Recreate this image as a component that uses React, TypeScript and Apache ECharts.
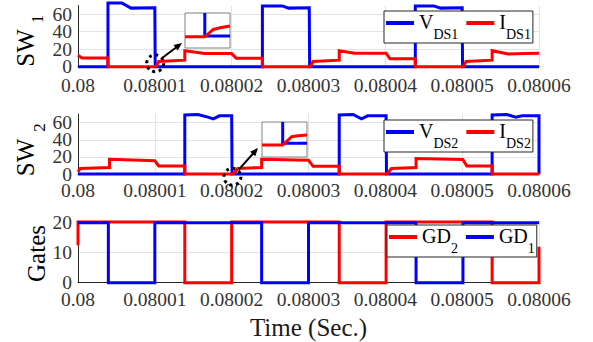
import React, { useEffect, useRef } from "react";
import * as echarts from "echarts";

// time axis: microseconds after 0.08 s
const tickLabels = ["0.08", "0.08001", "0.08002", "0.08003", "0.08004", "0.08005", "0.08006"];

const vds1: [number, number][] = [
  [0, 0], [3.9, 0], [3.9, 73], [5.7, 73], [6.9, 67], [10.0, 67.5], [10.05, 0],
  [24.0, 0], [24.0, 69.5], [26.6, 69.5], [27.4, 67], [30.1, 67.5], [30.15, 0],
  [43.9, 0], [43.9, 69.5], [46.3, 69.5], [47.2, 67], [50.0, 67.5], [50.05, 0], [60, 0],
];
const ids1: [number, number][] = [
  [0, 13], [0.5, 10], [3.9, 10], [3.9, 0], [10.0, 0], [10.2, 1], [10.5, 6], [13.9, 7.5],
  [13.9, 18.3], [16.5, 15], [20.0, 15], [20.6, 9.6], [24.0, 9.6], [24.0, 0],
  [30.1, 0], [30.3, 1], [30.6, 6], [34.0, 7.5], [34.0, 18.3], [36.0, 15.5], [40.1, 15.5], [40.6, 9], [43.9, 9], [43.9, 0],
  [50.0, 0], [50.2, 1], [50.5, 6], [53.9, 7.5], [53.9, 18.3], [56.0, 14.5], [58, 15], [60, 15.3],
];
const vds2: [number, number][] = [
  [0, 0], [13.9, 0], [13.9, 69], [15.6, 69.5], [16.9, 66.5], [17.6, 64.5], [18.4, 68], [20.0, 68], [20.05, 0],
  [34.0, 0], [34.0, 69], [35.8, 69.5], [36.9, 64.5], [37.7, 68], [40.1, 68], [40.15, 0],
  [53.9, 0], [53.9, 69], [55.8, 69.5], [57.0, 66.5], [57.8, 68], [60, 68], [60, 0],
];
const ids2: [number, number][] = [
  [0, 2.5], [0.3, 6.5], [4.1, 7.5], [4.1, 17.2], [10.0, 15.5], [10.5, 9.4], [13.9, 9.4], [13.9, 0],
  [20.1, 0], [20.3, 1], [20.8, 6.5], [23.9, 7.5], [23.9, 17.2], [30.0, 16.2], [30.6, 9], [34.0, 9], [34.0, 0],
  [40.1, 0], [40.3, 1], [40.8, 6.5], [44.0, 7.5], [44.0, 18], [50.1, 17], [50.6, 9.4], [53.9, 9.4], [53.9, 0],
  [60, 0],
];
const gd1: [number, number][] = [
  [0, 20], [3.95, 20], [3.95, 0], [10.0, 0], [10.0, 20], [23.9, 20], [23.9, 0], [30.0, 0], [30.0, 20],
  [44.0, 20], [44.0, 0], [50.1, 0], [50.1, 20], [60, 20],
];
const gd2: [number, number][] = [
  [0, 12.5], [0, 20.2], [13.9, 20.2], [13.9, 0], [20.0, 0], [20.0, 20.2], [34.0, 20.2], [34.0, 0],
  [40.1, 0], [40.1, 20.2], [53.9, 20.2], [53.9, 0], [60, 0], [60, 12],
];

// zoomed insets (normalised 0..1 coordinates)
const inset1Blue: [number, number][] = [[0.44, 1], [0.44, 0.34], [1, 0.34]];
const inset1Red: [number, number][] = [[0, 0.32], [0.44, 0.32], [0.63, 0.53], [0.78, 0.58], [1, 0.63]];
const inset2Blue: [number, number][] = [[0.46, 1], [0.46, 0.39], [1, 0.39]];
const inset2Red: [number, number][] = [[0, 0.34], [0.46, 0.34], [0.66, 0.58], [0.8, 0.61], [1, 0.63]];

// annotation circles (data coordinates)
const circleTop: [number, number] = [10.05, 3.9];
const circleMid: [number, number] = [20.1, -3.2];

const legendNames: Record<string, [string, string]> = {
  VDS1: ["V", "DS1"], IDS1: ["I", "DS1"], VDS2: ["V", "DS2"], IDS2: ["I", "DS2"], GD2: ["GD", "2"], GD1: ["GD", "1"],
};

const FONT = "Liberation Serif";
const BLUE = "#0000ff";
const RED = "#ff0000";
const LW = 3;
const AXIS = "#262626";
const LABEL = "#333333";
const GRIDC = "#e3e3e3";

const mainGrids = [
  { left: 78, top: 5.5, width: 461, height: 61.2 },
  { left: 78, top: 114.1, width: 461, height: 59.9 },
  { left: 78, top: 221.2, width: 461, height: 61.5 },
];
const insetGrids = [
  { left: 185, top: 13, width: 45, height: 35 },
  { left: 262, top: 122, width: 45, height: 35 },
];
const yMax = [70, 70, 20.5];
const yInterval = [20, 20, 10];
const labelMargin = [14, 11, 12];

function line(name: string | undefined, data: [number, number][], color: string, axis: number, z = 2) {
  return {
    type: "line", name, data, xAxisIndex: axis, yAxisIndex: axis, symbol: "none", showSymbol: false,
    lineStyle: { color, width: LW, join: "miter" }, itemStyle: { color }, clip: axis >= 3, z,
    emphasis: { disabled: true }, silent: true,
  };
}

function legend(data: string[], left: number, top: number) {
  return {
    data, left, top, orient: "horizontal", icon: "rect", itemWidth: 28, itemHeight: 4, itemGap: 8,
    padding: [1, 2, 2, 2], borderColor: AXIS, borderWidth: 1, backgroundColor: "#fff", selectedMode: false,
    formatter: (n: string) => `{m|${legendNames[n][0]}}{s|${legendNames[n][1]}}`,
    textStyle: {
      fontFamily: FONT, color: "#000",
      rich: {
        m: { fontSize: 20, fontFamily: FONT, color: "#000", lineHeight: 22, verticalAlign: "top" },
        s: { fontSize: 14, fontFamily: FONT, color: "#000", lineHeight: 14, padding: [15, 0, 0, 0], verticalAlign: "top" },
      },
    },
  };
}

function arrow(tail: number[], tip: number[]) {
  const dx = tip[0] - tail[0], dy = tip[1] - tail[1];
  const len = Math.hypot(dx, dy);
  const ux = dx / len, uy = dy / len, nx = -uy, ny = ux;
  const L = 8, W = 7;
  const bx = tip[0] - ux * L, by = tip[1] - uy * L;
  return [
    { type: "line", z: 20, shape: { x1: tail[0], y1: tail[1], x2: bx + ux, y2: by + uy }, style: { stroke: "#000", lineWidth: 2 } },
    { type: "polygon", z: 20, shape: { points: [[tip[0], tip[1]], [bx + nx * W / 2, by + ny * W / 2], [bx - nx * W / 2, by - ny * W / 2]] }, style: { fill: "#000" } },
  ];
}

export default function App() {
  const ref = useRef<HTMLDivElement>(null);
  useEffect(() => {
    const chart = echarts.init(ref.current!, undefined, { renderer: "svg" });
    const tickRich = { t: { fontSize: 19.5, fontFamily: FONT, color: LABEL, lineHeight: 10, padding: 0 } };
    const option: any = {
      animation: false,
      backgroundColor: "#fff",
      textStyle: { fontFamily: FONT },
      grid: [
        ...mainGrids,
        ...insetGrids.map((g) => ({ ...g, show: true, backgroundColor: "#fff", borderColor: "#808080", borderWidth: 1, z: 5 })),
      ],
      xAxis: [
        ...mainGrids.map((_, i) => ({
          type: "value", gridIndex: i, min: 0, max: 60, interval: 10,
          axisLine: { show: true, onZero: false, lineStyle: { color: AXIS, width: 1 } },
          axisTick: { show: false },
          axisLabel: {
            fontSize: 19.5, fontFamily: FONT, color: LABEL, margin: labelMargin[i], rich: tickRich,
            formatter: (v: number) => `{t|${tickLabels[Math.round(v / 10)] ?? ""}}`,
          },
          splitLine: { show: true, lineStyle: { color: GRIDC, width: 1 } },
          ...(i === 2 ? { name: "Time (Sec.)", nameLocation: "middle", nameGap: 32, nameTextStyle: { fontSize: 25, fontFamily: FONT, color: "#1a1a1a" } } : {}),
        })),
        ...insetGrids.map((_, i) => ({ type: "value", gridIndex: 3 + i, min: 0, max: 1, show: false })),
      ],
      yAxis: [
        ...mainGrids.map((_, i) => ({
          type: "value", gridIndex: i, position: "left", min: 0, max: yMax[i], interval: yInterval[i],
          axisLine: { show: true, onZero: false, lineStyle: { color: AXIS, width: 1 } },
          axisTick: { show: false },
          axisLabel: {
            fontSize: 19.5, fontFamily: FONT, color: LABEL, margin: 6, showMaxLabel: false, showMinLabel: i === 2 ? true : false,
            rich: tickRich, formatter: (v: number) => `{t|${v}}`,
          },
          splitLine: { show: true, showMaxLine: false, lineStyle: { color: GRIDC, width: 1 } },
        })),
        ...insetGrids.map((_, i) => ({ type: "value", gridIndex: 3 + i, min: 0, max: 1, show: false })),
        // zero labels of the two upper panels (kept on a separate axis so they are not dropped as overlapping)
        ...[0, 1].map((i) => ({
          type: "value", gridIndex: i, position: "left", offset: 0, min: 0, max: yMax[i], interval: yMax[i],
          axisLine: { show: false }, axisTick: { show: false }, splitLine: { show: false },
          axisLabel: {
            fontSize: 19.5, fontFamily: FONT, color: LABEL, margin: 6, showMaxLabel: false, showMinLabel: true,
            rich: tickRich, formatter: (v: number) => (v === 0 ? "{t|0}" : ""),
          },
        })),
      ],
      legend: [
        legend(["VDS1", "IDS1"], 384, 11),
        legend(["VDS2", "IDS2"], 384, 120),
        legend(["GD2", "GD1"], 387, 225),
      ],
      series: [
        line("VDS1", vds1, BLUE, 0),
        line("IDS1", ids1, RED, 0),
        line("VDS2", vds2, BLUE, 1),
        line("IDS2", ids2, RED, 1),
        line("GD2", gd2, RED, 2),
        line("GD1", gd1, BLUE, 2),
        line(undefined, inset1Blue, BLUE, 3, 6),
        line(undefined, inset1Red, RED, 3, 6),
        line(undefined, inset2Blue, BLUE, 4, 6),
        line(undefined, inset2Red, RED, 4, 6),
      ],
    };
    chart.setOption(option);

    const c1 = chart.convertToPixel({ xAxisIndex: 0, yAxisIndex: 0 }, circleTop) as number[];
    const c2 = chart.convertToPixel({ xAxisIndex: 1, yAxisIndex: 1 }, circleMid) as number[];
    const tip1 = [insetGrids[0].left - 3, insetGrids[0].top + insetGrids[0].height - 5];
    const tip2 = [insetGrids[1].left - 4, insetGrids[1].top + insetGrids[1].height - 9];
    const R = 8.5;
    const tailOf = (c: number[], tip: number[]) => {
      const dx = tip[0] - c[0], dy = tip[1] - c[1];
      const l = Math.hypot(dx, dy);
      return [c[0] + (dx / l) * (R + 1), c[1] + (dy / l) * (R + 1)];
    };
    const ts = { fontFamily: FONT, fill: "#000", align: "center", verticalAlign: "middle" };
    const dotted = { fill: "none", stroke: "#000", lineWidth: 3, lineDash: [3, 3.6] };
    chart.setOption({
      graphic: {
        elements: [
          {
            type: "group", x: 25, y: 48, rotation: Math.PI / 2, children: [
              { type: "text", x: 0, y: 0, style: { ...ts, text: "SW", fontSize: 25 } },
              { type: "text", x: 29, y: 12.5, style: { ...ts, text: "1", fontSize: 17 } },
            ],
          },
          {
            type: "group", x: 25, y: 157.5, rotation: Math.PI / 2, children: [
              { type: "text", x: 0, y: 0, style: { ...ts, text: "SW", fontSize: 25 } },
              { type: "text", x: 30, y: 14, style: { ...ts, text: "2", fontSize: 17 } },
            ],
          },
          { type: "text", x: 36.5, y: 253.5, rotation: Math.PI / 2, style: { ...ts, text: "Gates", fontSize: 25 } },
          { type: "circle", z: 20, shape: { cx: c1[0], cy: c1[1], r: R }, style: dotted },
          { type: "circle", z: 20, shape: { cx: c2[0], cy: c2[1], r: R }, style: dotted },
          ...arrow(tailOf(c1, tip1), tip1),
          ...arrow(tailOf(c2, tip2), tip2),
        ],
      },
    });
    return () => chart.dispose();
  }, []);
  return <div ref={ref} style={{ position: "absolute", left: 0, top: 0, width: 593, height: 342 }} />;
}
